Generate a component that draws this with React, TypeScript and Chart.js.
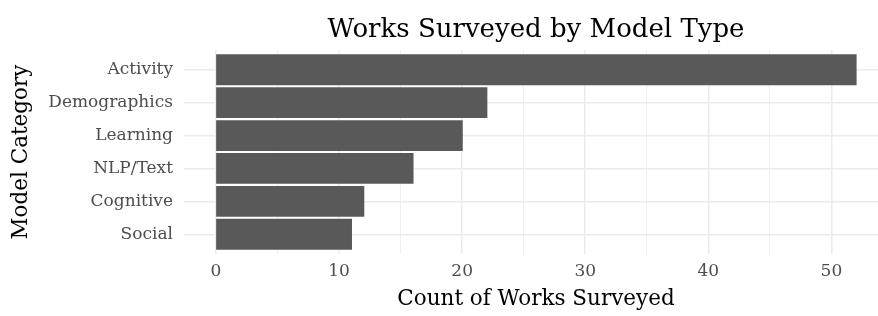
import React, { useEffect, useRef } from "react";
import { Chart, registerables } from "chart.js";
Chart.register(...registerables);

const categories = ["Activity", "Demographics", "Learning", "NLP/Text", "Cognitive", "Social"];
const counts = [52, 22, 20, 16, 12, 11];
const xGridTicks = [0, 5, 10, 15, 20, 25, 30, 35, 40, 45, 50];
const xLabelStep = 10;
const titleText = "Works Surveyed by Model Type";
const xTitle = "Count of Works Surveyed";
const yTitle = "Model Category";

const FONT = "'DejaVu Serif', serif";

export default function App() {
  const ref = useRef<HTMLCanvasElement>(null);
  useEffect(() => {
    document.body.style.margin = "0";
    const titlePlugin = {
      id: "ggTitle",
      afterDraw(chart: any) {
        const ctx = chart.ctx;
        const a = chart.chartArea;
        ctx.save();
        ctx.font = `26px ${FONT}`;
        ctx.fillStyle = "#000000";
        ctx.textAlign = "center";
        ctx.textBaseline = "alphabetic";
        ctx.fillText(titleText, (a.left + a.right) / 2, 37);
        ctx.restore();
      },
    };
    const chart = new Chart(ref.current as HTMLCanvasElement, {
      type: "bar",
      data: {
        datasets: [
          {
            data: categories.map((c, i) => ({ x: counts[i], y: i })) as any,
            backgroundColor: "#595959",
            borderWidth: 0,
            inflateAmount: 0.6,
            barPercentage: 0.9,
            categoryPercentage: 1,
          },
        ],
      },
      options: {
        indexAxis: "y",
        responsive: false,
        animation: false,
        layout: { padding: { top: 50, left: 0, right: 0, bottom: 0 } },
        plugins: {
          legend: { display: false },
          tooltip: { enabled: false },
          title: { display: false },
        },
        scales: {
          x: {
            type: "linear",
            min: -2.6,
            max: 54.6,
            offset: false,
            afterBuildTicks: (axis: any) => {
              axis.ticks = xGridTicks.map((v) => ({ value: v }));
            },
            afterFit: (axis: any) => {
              axis.height = 62;
            },
            border: { display: false },
            grid: {
              z: -1,
              drawTicks: false,
              offset: false,
              color: "#EBEBEB",
              lineWidth: (ctx: any) => (ctx.tick && ctx.tick.value % xLabelStep === 0 ? 1.5 : 0.8),
            },
            ticks: {
              autoSkip: false,
              maxRotation: 0,
              padding: 7,
              color: "#4D4D4D",
              font: { family: FONT, size: 17 },
              callback: (v: any) => (Number(v) % xLabelStep === 0 ? String(v) : ""),
            },
            title: {
              display: true,
              text: xTitle,
              color: "#000000",
              font: { family: FONT, size: 21.5 },
              padding: { top: 4, bottom: 4 },
            },
          },
          y: {
            type: "linear",
            reverse: true,
            min: -0.6,
            max: 5.6,
            offset: false,
            afterBuildTicks: (axis: any) => {
              axis.ticks = categories.map((_, i) => ({ value: i }));
            },
            afterFit: (axis: any) => {
              axis.width = 184;
            },
            border: { display: false },
            grid: { z: -1, drawTicks: false, offset: false, color: "#EBEBEB", lineWidth: 1.5 },
            ticks: {
              autoSkip: false,
              padding: 11,
              color: "#4D4D4D",
              font: { family: FONT, size: 17 },
              callback: (v: any) => categories[Number(v)] ?? "",
            },
            title: {
              display: true,
              text: yTitle,
              color: "#000000",
              font: { family: FONT, size: 21.5 },
              padding: { top: 9, bottom: 9 },
            },
          },
        },
      } as any,
      plugins: [titlePlugin],
    });
    return () => chart.destroy();
  }, []);
  return (
    <div style={{ width: 878, height: 316, overflow: "hidden" }}>
      <canvas ref={ref} width={888} height={316} style={{ display: "block" }} />
    </div>
  );
}
